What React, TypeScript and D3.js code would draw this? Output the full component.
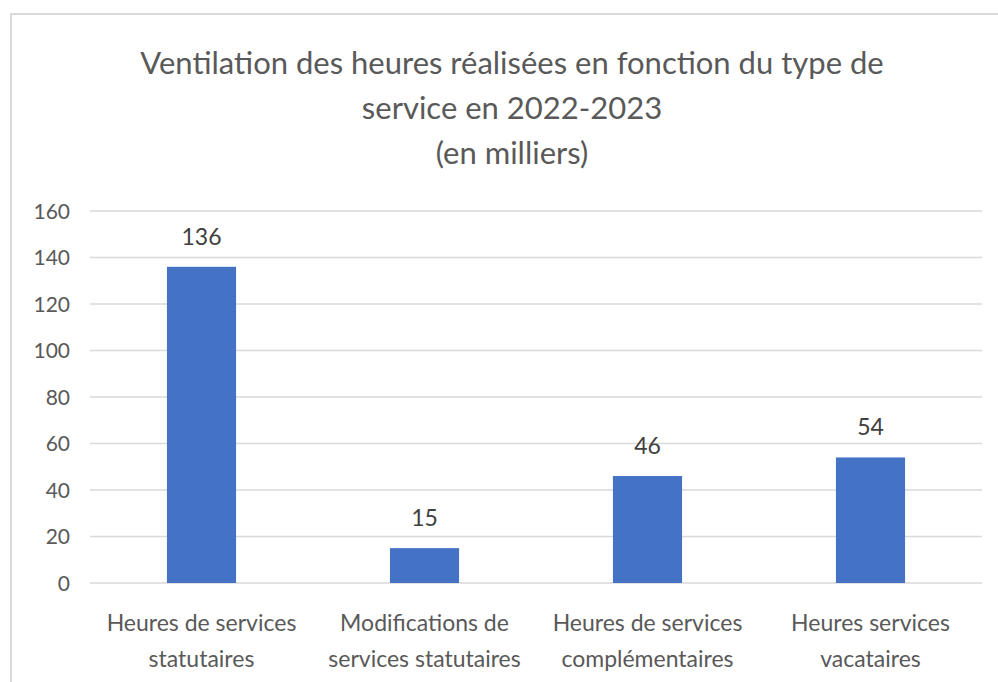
import React, { useEffect, useRef } from 'react';
import * as d3 from 'd3';

// Data
const titleLines = [
  'Ventilation des heures réalisées en fonction du type de',
  'service en 2022-2023',
  '(en milliers)',
];
const categories = [
  ['Heures de services', 'statutaires'],
  ['Modifications de', 'services statutaires'],
  ['Heures de services', 'complémentaires'],
  ['Heures services', 'vacataires'],
];
const values = [136, 15, 46, 54];
const yTicks = [0, 20, 40, 60, 80, 100, 120, 140, 160];

const W = 998;
const H = 682;
const margin = { top: 211, right: 16, bottom: 99, left: 90 };
const FONT = 'Lato, Carlito, Calibri, sans-serif';

const App = () => {
  const svgRef = useRef<SVGSVGElement | null>(null);

  useEffect(() => {
    if (!svgRef.current) return;
    const svg = d3.select(svgRef.current);
    svg.selectAll('*').remove();

    const width = W - margin.left - margin.right;
    const height = H - margin.top - margin.bottom;

    // Frame (top + left edge visible)
    svg.append('path')
      .attr('d', `M11,${H} L11,14 L${W},14`)
      .attr('fill', 'none')
      .attr('stroke', '#d9d9d9')
      .attr('stroke-width', 2);

    // Title
    const title = svg.append('text')
      .attr('text-anchor', 'middle')
      .attr('fill', '#595959')
      .style('font-family', FONT)
      .style('font-size', '31px');
    titleLines.forEach((t, i) => {
      title.append('tspan')
        .attr('x', 512)
        .attr('y', 74 + i * 45)
        .text(t);
    });

    const g = svg.append('g')
      .attr('transform', `translate(${margin.left},${margin.top})`);

    const x = d3.scaleBand<number>()
      .domain(d3.range(categories.length))
      .range([0, width])
      .paddingInner(0.69)
      .paddingOuter(0.345);

    const y = d3.scaleLinear()
      .domain([0, 160])
      .range([height, 0]);

    // Gridlines
    g.selectAll('.grid')
      .data(yTicks)
      .enter()
      .append('line')
      .attr('x1', 0)
      .attr('x2', width)
      .attr('y1', d => y(d))
      .attr('y2', d => y(d))
      .attr('stroke', '#d9d9d9')
      .attr('stroke-width', 1.5);

    // Y tick labels
    g.selectAll('.ytick')
      .data(yTicks)
      .enter()
      .append('text')
      .attr('x', -20)
      .attr('y', d => y(d))
      .attr('dy', '0.36em')
      .attr('text-anchor', 'end')
      .attr('fill', '#595959')
      .style('font-family', FONT)
      .style('font-size', '21px')
      .text(d => d);

    // Bars
    g.selectAll('.bar')
      .data(values)
      .enter()
      .append('rect')
      .attr('x', (d, i) => x(i)!)
      .attr('y', d => y(d))
      .attr('width', x.bandwidth())
      .attr('height', d => height - y(d))
      .attr('fill', '#4472c4');

    // Value labels
    g.selectAll('.val')
      .data(values)
      .enter()
      .append('text')
      .attr('x', (d, i) => x(i)! + x.bandwidth() / 2)
      .attr('y', d => y(d) - 22)
      .attr('text-anchor', 'middle')
      .attr('fill', '#404040')
      .style('font-family', FONT)
      .style('font-size', '23px')
      .text(d => d);

    // Category labels
    categories.forEach((lines, i) => {
      const t = g.append('text')
        .attr('text-anchor', 'middle')
        .attr('fill', '#595959')
        .style('font-family', FONT)
        .style('font-size', '23px');
      lines.forEach((l, j) => {
        t.append('tspan')
          .attr('x', x(i)! + x.bandwidth() / 2)
          .attr('y', height + 48 + j * 36)
          .text(l);
      });
    });
  }, []);

  return (
    <svg
      ref={svgRef}
      width={W}
      height={H}
      style={{ position: 'absolute', left: 0, top: 0, background: '#fff' }}
    />
  );
};

export default App;
